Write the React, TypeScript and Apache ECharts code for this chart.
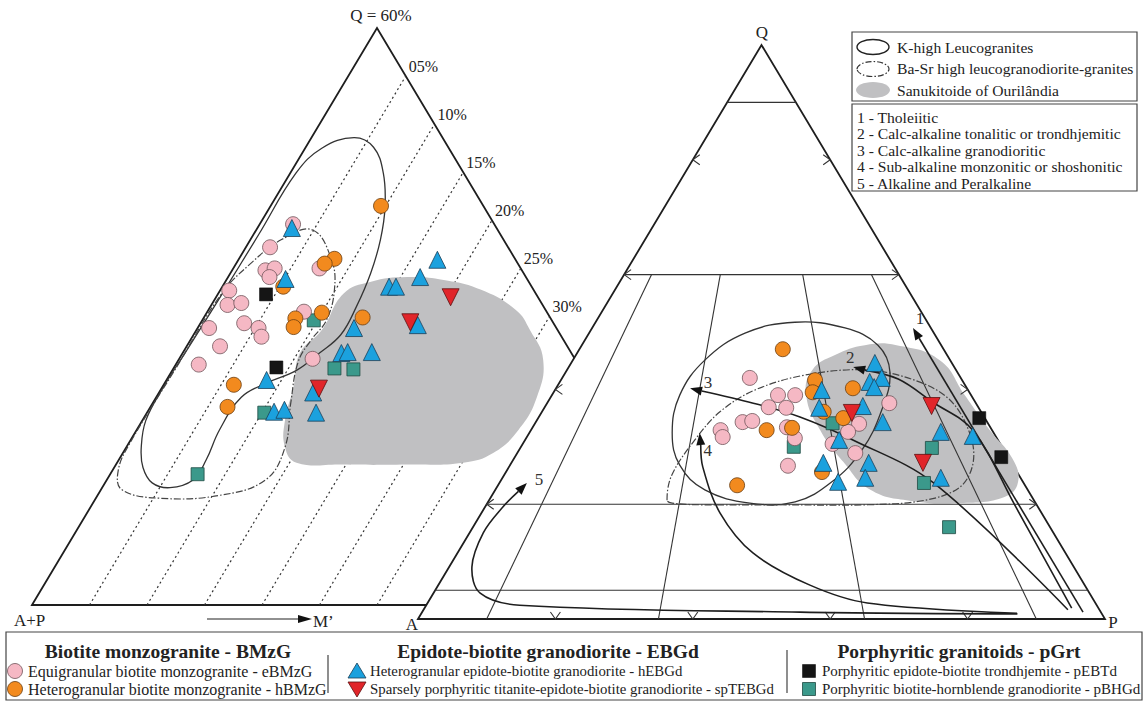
import React, { useEffect, useRef } from "react";
import * as echarts from "echarts";

const FONT = '"Liberation Serif", "Times New Roman", serif';

// ---------------- Left diagram: Q – (A+P) – M'   (apex = Q 60 %), values [Q %, M' %]
const leftMLines = [5, 10, 15, 20, 25, 30];
const leftMLabels = ["05%", "10%", "15%", "20%", "25%", "30%"];

const leftPink = [[39.6, 2.9], [37.2, 2.1], [35.0, 7.5], [34.8, 2.9], [35.0, 3.6], [34.1, 3.6], [32.7, 0.8], [31.2, 1.4], [31.4, 2.5], [30.5, 8.4], [28.8, 1.0], [29.3, 3.8], [28.8, 5.3], [27.9, 6.0], [26.9, 2.9], [25.0, 2.0], [25.6, 11.6]];
const leftOrange = [[41.5, 9.6], [36.0, 8.3], [35.5, 7.7], [33.1, 5.3], [30.4, 10.0], [29.8, 8.0], [28.9, 8.3], [29.9, 13.8], [22.9, 6.1], [20.6, 6.7]];
const leftBlue = [[39.2, 3.0], [33.9, 5.1], [28.8, 13.6], [35.9, 17.3], [34.1, 16.7], [33.1, 14.5], [33.1, 15.1], [29.1, 19.0], [26.2, 13.8], [26.3, 14.3], [26.3, 16.4], [23.4, 8.7], [22.1, 13.4], [20.1, 11.0], [20.3, 11.8], [20.0, 14.7]];
const leftRed = [[32.0, 20.4], [29.4, 18.2], [22.5, 13.7]];
const leftBlack = [[32.3, 4.2], [24.7, 8.9]];
const leftTeal = [[29.6, 9.7], [24.6, 14.0], [24.5, 15.7], [20.0, 10.2], [13.6, 7.6]];

const leftSanukitoid = [[28.6, 10.9], [32.4, 10.9], [33.6, 12.6], [34.1, 15.6], [33.8, 18.9], [32.8, 22.6], [30.7, 26.7], [28.6, 29.0], [25.5, 31.7], [21.6, 33.1], [18.2, 33.2], [15.8, 32.2], [14.8, 30.1], [14.6, 25.3], [14.6, 19.6], [14.8, 15.6], [16.4, 13.8], [19.2, 12.4], [22.7, 11.4], [26.2, 10.2]];
const leftKHigh = [[48.6, 3.7], [47.6, 5.9], [44.9, 8.1], [41.4, 10.0], [38.0, 11.3], [34.5, 12.2], [31.0, 12.7], [28.1, 12.8], [26.2, 11.9], [24.4, 10.8], [23.1, 8.9], [21.6, 7.4], [18.2, 7.2], [15.1, 7.6], [13.0, 7.5], [12.2, 5.9], [12.7, 4.1], [14.3, 2.5], [16.4, 1.3], [19.2, 0.3], [22.7, 0.1], [26.2, 0.2], [31.7, 0.35], [38.5, 0.45], [44.9, 0.5], [47.5, 1.45]];
const leftBaSr = [[39.0, 4.9], [35.9, 8.1], [32.8, 9.9], [29.6, 10.8], [27.6, 10.5], [25.3, 10.5], [21.0, 12.0], [16.4, 13.8], [13.0, 13.8], [11.4, 10.6], [11.1, 5.6], [12.0, 1.8], [14.0, 0.5], [16.8, 0.1], [24.4, 0.2], [32.4, 0.3], [35.6, 1.3], [38.0, 2.7]];

// ---------------- Right diagram: Q – A – P, values [Q %, P %]  (A = 100 − Q − P)
const rightQLines = [90, 60, 20, 5];
const rightPRatios = [10, 35, 65, 90];
const triTicks = [20, 40, 60, 80];

const rightPink = [[42.0, 27.3], [39.0, 32.9], [39.0, 35.4], [36.9, 32.6], [36.8, 35.2], [34.3, 30.1], [34.5, 31.4], [32.9, 27.6], [31.7, 28.5], [33.4, 37.0], [31.5, 39.1], [26.7, 40.5], [37.6, 49.8], [34.0, 47.2], [32.6, 46.3], [30.5, 45.1], [28.9, 49.2]];
const rightOrange = [[47.0, 29.6], [32.9, 34.3], [33.3, 37.8], [23.3, 34.8], [41.6, 37.0], [39.5, 37.7], [40.2, 43.2], [36.1, 41.0], [35.0, 44.4], [25.6, 46.0]];
const rightBlue = [[39.9, 38.8], [44.6, 44.2], [41.3, 45.1], [42.0, 46.5], [40.4, 46.2], [36.8, 40.0], [37.1, 46.2], [31.2, 45.7], [34.3, 50.5], [32.6, 59.8], [31.9, 64.8], [27.2, 52.0], [24.6, 52.8], [27.2, 45.4], [23.9, 49.2], [24.6, 63.8]];
const rightRed = [[35.9, 45.2], [37.1, 56.2], [27.2, 59.9]];
const rightBlack = [[35.0, 64.2], [28.2, 70.8]];
const rightTeal = [[30.0, 39.7], [34.1, 43.3], [29.8, 59.9], [23.7, 61.8], [16.0, 69.3]];

const rightSanukitoid = [[47.7, 45.8], [45.1, 53.4], [39.0, 60.1], [32.9, 66.8], [28.0, 72.5], [23.9, 75.4], [21.3, 74.8], [20.2, 68.8], [20.6, 61.3], [22.5, 54.6], [27.4, 48.2], [32.9, 42.1], [39.0, 37.0], [43.4, 35.7], [46.0, 37.7], [47.7, 41.2]];
const rightKHigh = [[32.4, 20.8], [39.0, 18.6], [45.1, 19.2], [49.8, 22.7], [51.7, 29.0], [50.7, 36.8], [47.7, 43.1], [43.0, 47.2], [36.4, 49.3], [29.4, 49.9], [23.9, 48.3], [20.4, 44.7], [20.2, 38.2], [22.5, 30.5], [26.8, 24.7]];
const rightBaSr = [[20.7, 25.9], [25.1, 24.4], [31.2, 24.7], [36.1, 25.9], [39.9, 29.1], [42.5, 35.1], [43.4, 43.4], [41.6, 51.5], [38.2, 58.3], [32.4, 64.1], [27.2, 67.2], [23.0, 67.4], [20.7, 63.5], [19.9, 55.5], [19.9, 42.8], [19.9, 31.1], [20.2, 26.9]];

const trend1 = [[1.2, 96.2], [50.7, 46.7]];
const trend2 = [[1.9, 94.2], [20.0, 76.8], [32.9, 64.3], [37.8, 56.0], [41.8, 49.0], [43.9, 41.4]];
const trend3 = [[1.6, 93.8], [23.7, 63.2], [31.2, 47.7], [35.2, 38.0], [37.6, 30.0], [40.2, 19.5]];
const trend4 = [[1.0, 86.7], [2.8, 64.0], [5.9, 54.1], [11.5, 43.0], [18.5, 34.7], [26.5, 28.2], [32.4, 24.8]];
const trend5 = [[0.9, 86.8], [1.2, 55.0], [2.4, 13.6], [4.5, 6.8], [9.1, 3.3], [15.0, 2.0], [19.5, 2.6], [23.7, 4.0]];
const trendLabels = ["1", "2", "3", "4", "5"];

// ---------------- Legends
const envLegend = ["K-high Leucogranites", "Ba-Sr high leucogranodiorite-granites", "Sanukitoide of Ourilândia"];
const seriesLegend = ["1 - Tholeiitic", "2 - Calc-alkaline tonalitic or trondhjemitic", "3 - Calc-alkaline granodioritic", "4 - Sub-alkaline monzonitic or shoshonitic", "5 - Alkaline and Peralkaline"];
const groupTitles = ["Biotite monzogranite - BMzG", "Epidote-biotite granodiorite - EBGd", "Porphyritic granitoids - pGrt"];
const groupItems = [
  ["Equigranular biotite monzogranite - eBMzG", "Heterogranular biotite monzogranite - hBMzG"],
  ["Heterogranular epidote-biotite granodiorite - hEBGd", "Sparsely porphyritic titanite-epidote-biotite granodiorite - spTEBGd"],
  ["Porphyritic epidote-biotite trondhjemite - pEBTd", "Porphyritic biotite-hornblende granodiorite - pBHGd"],
];

const STY: any = {
  pink: { color: "#f5b8c4", borderColor: "#6e5459", borderWidth: 0.8 },
  orange: { color: "#f28a1e", borderColor: "#6a3d12", borderWidth: 0.8 },
  blue: { color: "#1ba1de", borderColor: "#1d3f57", borderWidth: 0.8 },
  red: { color: "#e1252a", borderColor: "#5b1111", borderWidth: 0.8 },
  black: { color: "#151515", borderColor: "#000", borderWidth: 0.5 },
  teal: { color: "#3b998b", borderColor: "#1f4a43", borderWidth: 0.8 },
};
const GRAY = "#c0c0c2";
const INK = "#1e1e1e";

const toL = (p: number[]) => [p[1] / 60 + p[0] / 120, p[0] / 60];
const toR = (p: number[]) => [p[1] / 100 + p[0] / 200, p[0] / 100];

function polySeries(axis: number, pts: number[][], conv: any, style: any, closed: boolean, smooth: number, z: number) {
  return {
    type: "custom", xAxisIndex: axis, yAxisIndex: axis, z, silent: true,
    data: [[0.5, 0.5]],
    renderItem: (_p: any, api: any) => ({
      type: closed ? "polygon" : "polyline",
      shape: { points: pts.map((q) => api.coord(conv(q))), smooth },
      style,
    }),
  };
}

function segSeries(axis: number, segs: number[][][], conv: any, style: any, z: number) {
  return {
    type: "custom", xAxisIndex: axis, yAxisIndex: axis, z, silent: true,
    data: segs.map(() => [0.5, 0.5]),
    renderItem: (params: any, api: any) => {
      const s = segs[params.dataIndex];
      const a = api.coord(conv(s[0]));
      const b = api.coord(conv(s[1]));
      return { type: "line", shape: { x1: a[0], y1: a[1], x2: b[0], y2: b[1] }, style };
    },
  };
}

function arrowSeries(pts: number[][], label: string, lo: number[], z: number) {
  return {
    type: "custom", xAxisIndex: 1, yAxisIndex: 1, z, silent: true,
    data: [[0.5, 0.5]],
    renderItem: (_p: any, api: any) => {
      const P = pts.map((q) => api.coord(toR(q)));
      const n = P.length;
      const tip = P[n - 1];
      const prev = P[n - 2];
      const ang = Math.atan2(tip[1] - prev[1], tip[0] - prev[0]);
      const L = 12, W = 4.5;
      const bx = tip[0] - L * Math.cos(ang);
      const by = tip[1] - L * Math.sin(ang);
      const head = [[tip[0], tip[1]], [bx - W * Math.sin(ang), by + W * Math.cos(ang)], [bx + W * Math.sin(ang), by - W * Math.cos(ang)]];
      const line = P.slice(0, n - 1).concat([[bx, by]]);
      return {
        type: "group",
        children: [
          { type: "polyline", shape: { points: line, smooth: 0.35 }, style: { stroke: INK, lineWidth: 1.6, fill: "none" } },
          { type: "polygon", shape: { points: head }, style: { fill: "#111" } },
          { type: "text", x: tip[0] + lo[0], y: tip[1] + lo[1], style: { text: label, font: `17px ${FONT}`, fill: "#333", textAlign: "center", textVerticalAlign: "middle" } },
        ],
      };
    },
  };
}

function scatter(axis: number, pts: number[][], conv: any, kind: string, z: number) {
  const symbol = kind === "pink" || kind === "orange" ? "circle" : kind === "blue" || kind === "red" ? "triangle" : "rect";
  const size = symbol === "circle" ? 15 : symbol === "triangle" ? 17 : 13;
  return {
    type: "scatter", xAxisIndex: axis, yAxisIndex: axis, z, silent: true,
    symbol, symbolSize: size, symbolRotate: kind === "red" ? 180 : 0,
    itemStyle: { ...STY[kind], opacity: 1 },
    data: pts.map((p) => conv(p)),
  };
}

function buildOption() {
  const series: any[] = [];
  // ---- left diagram
  series.push(polySeries(0, [[0, 0], [60, 0], [0, 60]], toL, { stroke: INK, lineWidth: 1.8, fill: "none" }, true, 0, 1));
  series.push(segSeries(0, leftMLines.map((k) => [[0, k], [60 - k, k]]), toL, { stroke: "#333", lineWidth: 1.2, lineDash: [2, 3] }, 1));
  series.push({
    type: "custom", xAxisIndex: 0, yAxisIndex: 0, z: 1, silent: true,
    data: leftMLines.map(() => [0.5, 0.5]),
    renderItem: (params: any, api: any) => {
      const k = leftMLines[params.dataIndex];
      const c = api.coord(toL([60 - k, k]));
      return { type: "text", x: c[0] + 3, y: c[1] - 10, style: { text: leftMLabels[params.dataIndex], font: `16px ${FONT}`, fill: "#222", textAlign: "left", textVerticalAlign: "middle" } };
    },
  });
  series.push(polySeries(0, leftSanukitoid, toL, { fill: GRAY, stroke: "none" }, true, 0.45, 2));
  series.push(polySeries(0, leftKHigh, toL, { fill: "none", stroke: "#333", lineWidth: 1.3 }, true, 0.4, 3));
  series.push(polySeries(0, leftBaSr, toL, { fill: "none", stroke: "#444", lineWidth: 1.2, lineDash: [7, 2, 1.5, 2] }, true, 0.4, 3));
  series.push(scatter(0, leftTeal, toL, "teal", 4));
  series.push(scatter(0, leftBlack, toL, "black", 4));
  series.push(scatter(0, leftPink, toL, "pink", 4));
  series.push(scatter(0, leftOrange, toL, "orange", 4));
  series.push(scatter(0, leftBlue, toL, "blue", 4));
  series.push(scatter(0, leftRed, toL, "red", 4));

  // ---- right diagram
  series.push(polySeries(1, [[0, 0], [100, 0], [0, 100]], toR, { fill: "#fff", stroke: INK, lineWidth: 1.8 }, true, 0, 5));
  series.push(polySeries(1, rightSanukitoid, toR, { fill: GRAY, stroke: "none" }, true, 0.45, 6));
  series.push(segSeries(1, rightQLines.map((q) => [[q, 0], [q, 100 - q]]), toR, { stroke: "#333", lineWidth: 1.1 }, 7));
  series.push(segSeries(1, rightPRatios.map((r) => [[60, (40 * r) / 100], [0, r]]), toR, { stroke: "#333", lineWidth: 1.1 }, 7));
  series.push({
    type: "custom", xAxisIndex: 1, yAxisIndex: 1, z: 7, silent: true,
    data: triTicks.map(() => [0.5, 0.5]),
    renderItem: (params: any, api: any) => {
      const t = triTicks[params.dataIndex];
      const L = api.coord(toR([t, 0]));
      const R = api.coord(toR([t, 100 - t]));
      const B = api.coord(toR([0, t]));
      const st = { stroke: "#333", lineWidth: 1.1, fill: "none" };
      return {
        type: "group",
        children: [
          { type: "polyline", shape: { points: [[L[0] + 7, L[1] - 5], [L[0], L[1]], [L[0] + 7, L[1] + 5]] }, style: st },
          { type: "polyline", shape: { points: [[R[0] - 7, R[1] - 5], [R[0], R[1]], [R[0] - 7, R[1] + 5]] }, style: st },
          { type: "polyline", shape: { points: [[B[0] - 5, B[1] - 7], [B[0], B[1]], [B[0] + 5, B[1] - 7]] }, style: st },
        ],
      };
    },
  });
  series.push(polySeries(1, rightKHigh, toR, { fill: "none", stroke: "#333", lineWidth: 1.3 }, true, 0.4, 8));
  series.push(polySeries(1, rightBaSr, toR, { fill: "none", stroke: "#444", lineWidth: 1.2, lineDash: [7, 2, 1.5, 2] }, true, 0.35, 8));
  series.push(arrowSeries(trend1, trendLabels[0], [7, -9], 8));
  series.push(arrowSeries(trend2, trendLabels[1], [-3, -10], 8));
  series.push(arrowSeries(trend3, trendLabels[2], [18, -6], 8));
  series.push(arrowSeries(trend4, trendLabels[3], [8, 17], 8));
  series.push(arrowSeries(trend5, trendLabels[4], [12, -3], 8));
  series.push(scatter(1, rightTeal, toR, "teal", 9));
  series.push(scatter(1, rightBlack, toR, "black", 9));
  series.push(scatter(1, rightPink, toR, "pink", 9));
  series.push(scatter(1, rightOrange, toR, "orange", 9));
  series.push(scatter(1, rightBlue, toR, "blue", 9));
  series.push(scatter(1, rightRed, toR, "red", 9));

  // ---- graphics: labels & legends
  const g: any[] = [];
  const txt = (text: string, x: number, y: number, size: number, align = "left", bold = false) => ({
    type: "text", x, y, z: 20,
    style: { text, font: `${bold ? "bold " : ""}${size}px ${FONT}`, fill: "#222", textAlign: align, textVerticalAlign: "middle" },
  });
  g.push(txt("Q = 60%", 381, 15, 17, "center"));
  g.push(txt("Q", 762, 32, 17, "center"));
  g.push(txt("A+P", 14, 620, 17));
  g.push(txt("M\u2019", 313, 621, 17));
  g.push(txt("A", 412, 624, 17, "center"));
  g.push(txt("P", 1113, 622, 17, "center"));
  g.push({ type: "line", z: 20, shape: { x1: 207, y1: 619, x2: 300, y2: 619 }, style: { stroke: "#222", lineWidth: 1.2 } });
  g.push({ type: "polygon", z: 20, shape: { points: [[298, 615], [312, 619], [298, 623]] }, style: { fill: "#111" } });

  // top-right boxes
  g.push({ type: "rect", z: 20, shape: { x: 852, y: 32, width: 285, height: 69 }, style: { fill: "#fff", stroke: "#444", lineWidth: 1.2 } });
  g.push({ type: "ellipse", z: 21, shape: { cx: 873, cy: 47, rx: 16, ry: 7.5 }, style: { fill: "none", stroke: "#222", lineWidth: 1.4 } });
  g.push({ type: "ellipse", z: 21, shape: { cx: 873, cy: 69, rx: 16, ry: 7.5 }, style: { fill: "none", stroke: "#333", lineWidth: 1.2, lineDash: [6, 2, 1.5, 2] } });
  g.push({ type: "ellipse", z: 21, shape: { cx: 873, cy: 90, rx: 17, ry: 8 }, style: { fill: GRAY, stroke: "none" } });
  envLegend.forEach((t, i) => g.push(txt(t, 897, 47 + i * 21.5, 15.6)));
  g.push({ type: "rect", z: 20, shape: { x: 852, y: 104, width: 285, height: 87 }, style: { fill: "#fff", stroke: "#444", lineWidth: 1.2 } });
  seriesLegend.forEach((t, i) => g.push(txt(t, 857, 117 + i * 16.6, 15.6)));

  // bottom legend
  g.push({ type: "rect", z: 20, shape: { x: 6, y: 632, width: 1136, height: 68 }, style: { fill: "#fff", stroke: "#444", lineWidth: 1.2 } });
  const centers = [168, 548, 959];
  groupTitles.forEach((t, i) => g.push(txt(t, centers[i], 651, 19.5, "center", true)));
  g.push({ type: "line", z: 21, shape: { x1: 328, y1: 655, x2: 328, y2: 693 }, style: { stroke: "#444", lineWidth: 1.2 } });
  g.push({ type: "line", z: 21, shape: { x1: 787, y1: 650, x2: 787, y2: 693 }, style: { stroke: "#444", lineWidth: 1.2 } });
  const rowY = [671, 689];
  const symX = [15, 357, 809];
  const textX = [28, 370, 822];
  const textSize = [16, 14.8, 15];
  const kinds = [["pink", "orange"], ["blue", "red"], ["black", "teal"]];
  kinds.forEach((pair, gi) => {
    pair.forEach((k, ri) => {
      const cx = symX[gi], cy = rowY[ri];
      const s = STY[k];
      const style = { fill: s.color, stroke: s.borderColor, lineWidth: s.borderWidth };
      if (k === "pink" || k === "orange") g.push({ type: "circle", z: 21, shape: { cx, cy, r: 7.5 }, style });
      else if (k === "blue") g.push({ type: "polygon", z: 21, shape: { points: [[cx, cy - 8], [cx + 9, cy + 7], [cx - 9, cy + 7]] }, style });
      else if (k === "red") g.push({ type: "polygon", z: 21, shape: { points: [[cx - 9, cy - 7], [cx + 9, cy - 7], [cx, cy + 8]] }, style });
      else g.push({ type: "rect", z: 21, shape: { x: cx - 6.5, y: cy - 6.5, width: 13, height: 13 }, style });
      g.push(txt(groupItems[gi][ri], textX[gi], cy, textSize[gi]));
    });
  });

  return {
    animation: false,
    backgroundColor: "#fff",
    grid: [
      { left: 32, top: 28, width: 690, height: 577 },
      { left: 418, top: 45, width: 687, height: 574 },
    ],
    xAxis: [
      { type: "value", gridIndex: 0, min: 0, max: 1, show: false },
      { type: "value", gridIndex: 1, min: 0, max: 1, show: false },
    ],
    yAxis: [
      { type: "value", gridIndex: 0, min: 0, max: 1, show: false },
      { type: "value", gridIndex: 1, min: 0, max: 1, show: false },
    ],
    series,
    graphic: { elements: g },
  };
}

export default function App() {
  const ref = useRef<HTMLDivElement>(null);
  useEffect(() => {
    document.body.style.margin = "0";
    if (!ref.current) return;
    const chart = echarts.init(ref.current, undefined, { renderer: "svg" });
    chart.setOption(buildOption() as any);
    return () => chart.dispose();
  }, []);
  return <div ref={ref} style={{ width: 1147, height: 702 }} />;
}
